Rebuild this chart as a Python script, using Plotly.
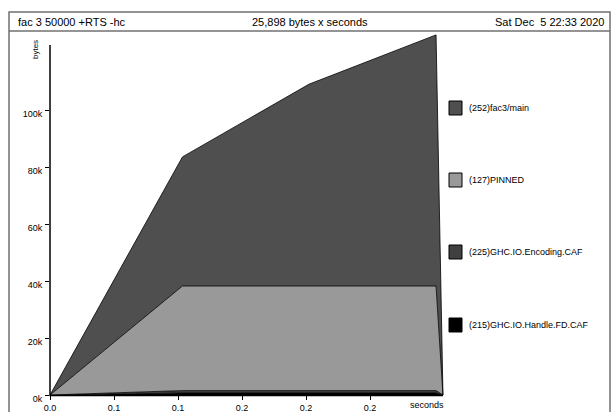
import plotly.graph_objects as go

# ---- data ----
times = [0.0, 0.1035, 0.2023, 0.3016, 0.3070]
handle_fd = [0, 700, 700, 700, 0]          # (215)GHC.IO.Handle.FD.CAF
encoding = [0, 850, 850, 850, 0]           # (225)GHC.IO.Encoding.CAF
pinned = [0, 36700, 36700, 36700, 0]       # (127)PINNED
main = [0, 45300, 70800, 88100, 0]         # (252)fac3/main

series_names = ["(215)GHC.IO.Handle.FD.CAF", "(225)GHC.IO.Encoding.CAF",
                "(127)PINNED", "(252)fac3/main"]
series_vals = [handle_fd, encoding, pinned, main]
series_colors = ["#000000", "#404040", "#999999", "#4f4f4f"]

ytick_vals = [0, 20000, 40000, 60000, 80000, 100000]
ytick_text = ["0k", "20k", "40k", "60k", "80k", "100k"]
xtick_vals = [0.0, 0.05, 0.10, 0.15, 0.20, 0.25]
xtick_text = ["0.0", "0.1", "0.1", "0.2", "0.2", "0.2"]

title_left = "fac 3 50000 +RTS -hc"
title_mid = "25,898 bytes x seconds"
title_right = "Sat Dec  5 22:33 2020"

# ---- layout geometry (pixels) ----
W, H = 613, 412
L, R, T, B = 50, 445, 32, 395
XMAX = (R - L) / 1280.0
YMAX = (B - T) / 2.85 * 1000


def px(x):
    return (x - L) / (R - L)


def py(y):
    return (B - y) / (B - T)


FONT = "Liberation Sans, Arial, Helvetica, sans-serif"

fig = go.Figure()
for name, vals, col in zip(series_names, series_vals, series_colors):
    fig.add_trace(go.Scatter(
        x=times, y=vals, name=name, mode="lines", stackgroup="one",
        line=dict(color="black", width=0.8), fillcolor=col,
        showlegend=False, hoverinfo="skip"))

shapes = []
# outer frame and title box
shapes.append(dict(type="rect", xref="paper", yref="paper",
                   x0=px(9), x1=px(610), y0=py(430), y1=py(12),
                   line=dict(color="#707070", width=1.5)))
shapes.append(dict(type="line", xref="paper", yref="paper",
                   x0=px(9), x1=px(610), y0=py(31), y1=py(31),
                   line=dict(color="#707070", width=1.5)))
# axes lines
shapes.append(dict(type="line", xref="paper", yref="paper",
                   x0=px(50), x1=px(50), y0=py(395.5), y1=py(45),
                   line=dict(color="black", width=1.5)))
shapes.append(dict(type="line", xref="paper", yref="paper",
                   x0=px(49.5), x1=px(443), y0=py(395.5), y1=py(395.5),
                   line=dict(color="black", width=1.5)))

annotations = [
    dict(text=title_left, x=px(16), y=py(22), xref="paper", yref="paper",
         xanchor="left", yanchor="middle", showarrow=False,
         font=dict(size=11, color="black", family=FONT)),
    dict(text=title_mid, x=px(310), y=py(22), xref="paper", yref="paper",
         xanchor="center", yanchor="middle", showarrow=False,
         font=dict(size=11, color="black", family=FONT)),
    dict(text=title_right.replace("  ", "&nbsp; "), x=px(606), y=py(22),
         xref="paper", yref="paper",
         xanchor="right", yanchor="middle", showarrow=False,
         font=dict(size=11, color="black", family=FONT)),
    dict(text="bytes", x=px(36), y=py(50), xref="paper", yref="paper",
         xanchor="center", yanchor="middle", showarrow=False, textangle=-90,
         font=dict(size=8, color="black", family=FONT)),
    dict(text="seconds", x=px(427), y=py(405), xref="paper", yref="paper",
         xanchor="center", yanchor="middle", showarrow=False,
         font=dict(size=9, color="black", family=FONT)),
]

# legend (top of stack first)
legend_y = [108, 180, 252, 325]
for name, col, yc in zip(series_names[::-1], series_colors[::-1], legend_y):
    shapes.append(dict(type="rect", xref="paper", yref="paper",
                       x0=px(449), x1=px(462), y0=py(yc + 7), y1=py(yc - 7),
                       fillcolor=col, line=dict(color="black", width=1)))
    annotations.append(dict(text=name, x=px(467), y=py(yc), xref="paper",
                            yref="paper", xanchor="left", yanchor="middle",
                            showarrow=False,
                            font=dict(size=9, color="black", family=FONT)))

fig.update_layout(
    width=W, height=H,
    margin=dict(l=L, r=W - R, t=T, b=H - B, pad=0, autoexpand=False),
    paper_bgcolor="white", plot_bgcolor="white",
    font=dict(family=FONT, size=9, color="black"),
    shapes=shapes, annotations=annotations,
    xaxis=dict(range=[0, XMAX], tickvals=xtick_vals, ticktext=xtick_text,
               ticks="outside", ticklen=4, tickwidth=1, tickcolor="black",
               ticklabelstandoff=0,
               showgrid=False, zeroline=False, showline=False,
               automargin=False,
               tickfont=dict(size=9, family=FONT, color="black")),
    yaxis=dict(range=[0, YMAX], tickvals=ytick_vals, ticktext=ytick_text,
               ticks="outside", ticklen=4, tickwidth=1, tickcolor="black",
               ticklabelstandoff=1, ticklabelshift=4,
               showgrid=False, zeroline=False, showline=False,
               automargin=False,
               tickfont=dict(size=9, family=FONT, color="black")),
)

fig.write_html(
    "out.html",
    config={"displayModeBar": False},
    post_script="document.body.style.margin='0';"
                "document.body.style.overflow='hidden';")
